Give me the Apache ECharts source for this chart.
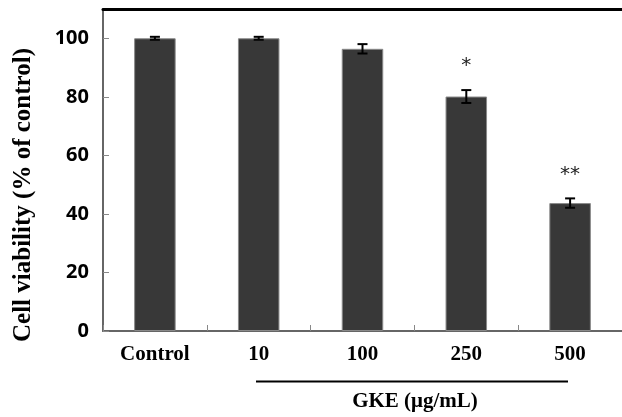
<!DOCTYPE html>
<html><head><meta charset="utf-8">
<script src="https://cdn.jsdelivr.net/npm/echarts@6/dist/echarts.min.js"></script>
<style>html,body{margin:0;padding:0;background:#fff}#c{width:622px;height:417px}</style>
</head><body><div id="c"></div>
<script>
const categories = ["Control", "10", "100", "250", "500"];
const viability = [100, 100, 96.4, 80.1, 43.7];
const errors = [0.5, 0.5, 1.6, 2.2, 1.6];
const significance = ["", "", "", "*", "**"];
const yTicks = [0, 20, 40, 60, 80, 100];
const yTitle = "Cell viability (% of control)";
const xTitle = "GKE (μg/mL)";

const chart = echarts.init(document.getElementById('c'), null, {renderer: 'canvas'});
const errData = categories.map((c, i) => [i, viability[i] - errors[i], viability[i] + errors[i]]);

chart.setOption({
  animation: false,
  grid: {left: 103, top: 9, width: 522, bottom: 86, containLabel: false},
  xAxis: [{
    type: 'category', data: categories, position: 'bottom',
    axisLine: {lineStyle: {color: '#666', width: 2}},
    axisTick: {show: true, inside: true, length: 6, lineStyle: {color: '#888', width: 1}},
    axisLabel: {fontFamily: 'Liberation Serif', fontWeight: 'bold', fontSize: 21, color: '#000', margin: 13}
  }, {
    type: 'category', data: categories, position: 'top',
    axisLine: {lineStyle: {color: '#000', width: 3}},
    axisTick: {show: false}, axisLabel: {show: false}
  }],
  yAxis: {
    type: 'value', min: 0, max: 110, interval: 20,
    axisLine: {show: true, lineStyle: {color: '#666', width: 2}},
    axisTick: {show: true, inside: true, length: 6, lineStyle: {color: '#888', width: 1}},
    axisLabel: {fontFamily: 'Noto Sans', fontWeight: 'bold', fontSize: 20, color: '#000', margin: 14,
      showMaxLabel: false, formatter: v => yTicks.includes(v) ? String(v) : ''},
    splitLine: {show: false}
  },
  series: [{
    type: 'bar', data: viability, barWidth: '40%',
    itemStyle: {color: '#383838', borderColor: '#8a8a8a', borderWidth: 1}
  }, {
    type: 'custom', data: errData, z: 5,
    renderItem: function (params, api) {
      const x = api.coord([api.value(0), 0])[0];
      const lo = api.coord([api.value(0), api.value(1)])[1];
      const hi = api.coord([api.value(0), api.value(2)])[1];
      const w = 5;
      const st = {stroke: '#000', lineWidth: 2};
      const sig = significance[params.dataIndex];
      const children = [
        {type: 'line', shape: {x1: x, y1: lo, x2: x, y2: hi}, style: st},
        {type: 'line', shape: {x1: x - w, y1: lo, x2: x + w, y2: lo}, style: st},
        {type: 'line', shape: {x1: x - w, y1: hi, x2: x + w, y2: hi}, style: st}
      ];
      if (sig) {
        children.push({type: 'text', style: {text: sig, x: x, y: hi - 24, align: 'center', verticalAlign: 'middle',
          font: '20px "DejaVu Sans"', fill: '#222'}});
      }
      return {type: 'group', children: children};
    }
  }],
  graphic: [
    {type: 'text', x: 24, y: 195, rotation: Math.PI / 2,
      style: {text: yTitle, align: 'center', verticalAlign: 'middle',
      font: 'bold 25px "Liberation Serif"', fill: '#000'}},
    {type: 'line', shape: {x1: 256, y1: 381.5, x2: 568, y2: 381.5}, style: {stroke: '#000', lineWidth: 2}},
    {type: 'text', style: {text: xTitle, x: 415, y: 402, align: 'center', verticalAlign: 'middle',
      font: 'bold 21px "Liberation Serif"', fill: '#000'}}
  ]
});
</script></body></html>
